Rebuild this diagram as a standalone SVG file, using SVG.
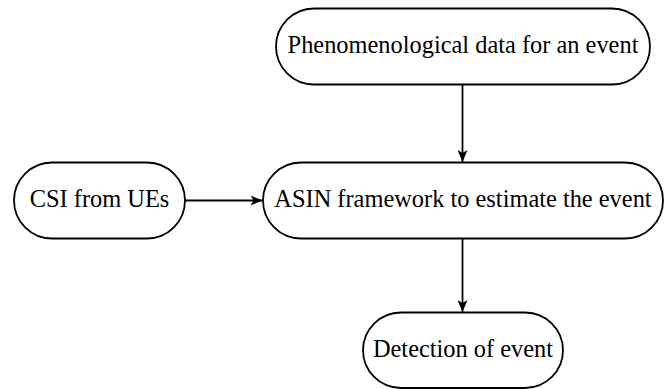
<svg xmlns="http://www.w3.org/2000/svg" width="670" height="389" viewBox="0 0 670 389">
<defs>
<style>
.n{fill:#fff;stroke:#000;stroke-width:1.8}
.t{font-family:"Liberation Serif","Times New Roman",serif;font-size:24.4px;fill:#000;text-anchor:middle}
.c{stroke:#000;stroke-width:1.8;fill:none;marker-end:url(#ah)}
</style>
<marker id="ah" viewBox="0 0 12 10" refX="12" refY="5" markerWidth="12" markerHeight="10" markerUnits="userSpaceOnUse" orient="auto">
<path d="M0,0 L12,5 L0,10 L3,5 Z" fill="#000"/>
</marker>
</defs>
<rect width="670" height="389" fill="#fff"/>
<g id="connectors">
<line class="c" x1="462.5" y1="84.5" x2="462.5" y2="162"/>
<line class="c" x1="185" y1="200.5" x2="262.5" y2="200.5"/>
<line class="c" x1="462.5" y1="238.5" x2="462.5" y2="312"/>
</g>
<g id="phenomenological">
<rect class="n" x="276" y="8.5" width="374" height="76" rx="38" ry="38"/>
<text class="t" x="463" y="53">Phenomenological data for an event</text>
</g>
<g id="csi">
<rect class="n" x="14" y="162.5" width="171" height="76" rx="38" ry="38"/>
<text class="t" x="99.5" y="207">CSI from UEs</text>
</g>
<g id="asin">
<rect class="n" x="263" y="162.5" width="400" height="76" rx="38" ry="38"/>
<text class="t" x="463" y="207">ASIN framework to estimate the event</text>
</g>
<g id="detection">
<rect class="n" x="363" y="312.5" width="200" height="75.5" rx="38" ry="38"/>
<text class="t" x="463" y="357">Detection of event</text>
</g>
</svg>
